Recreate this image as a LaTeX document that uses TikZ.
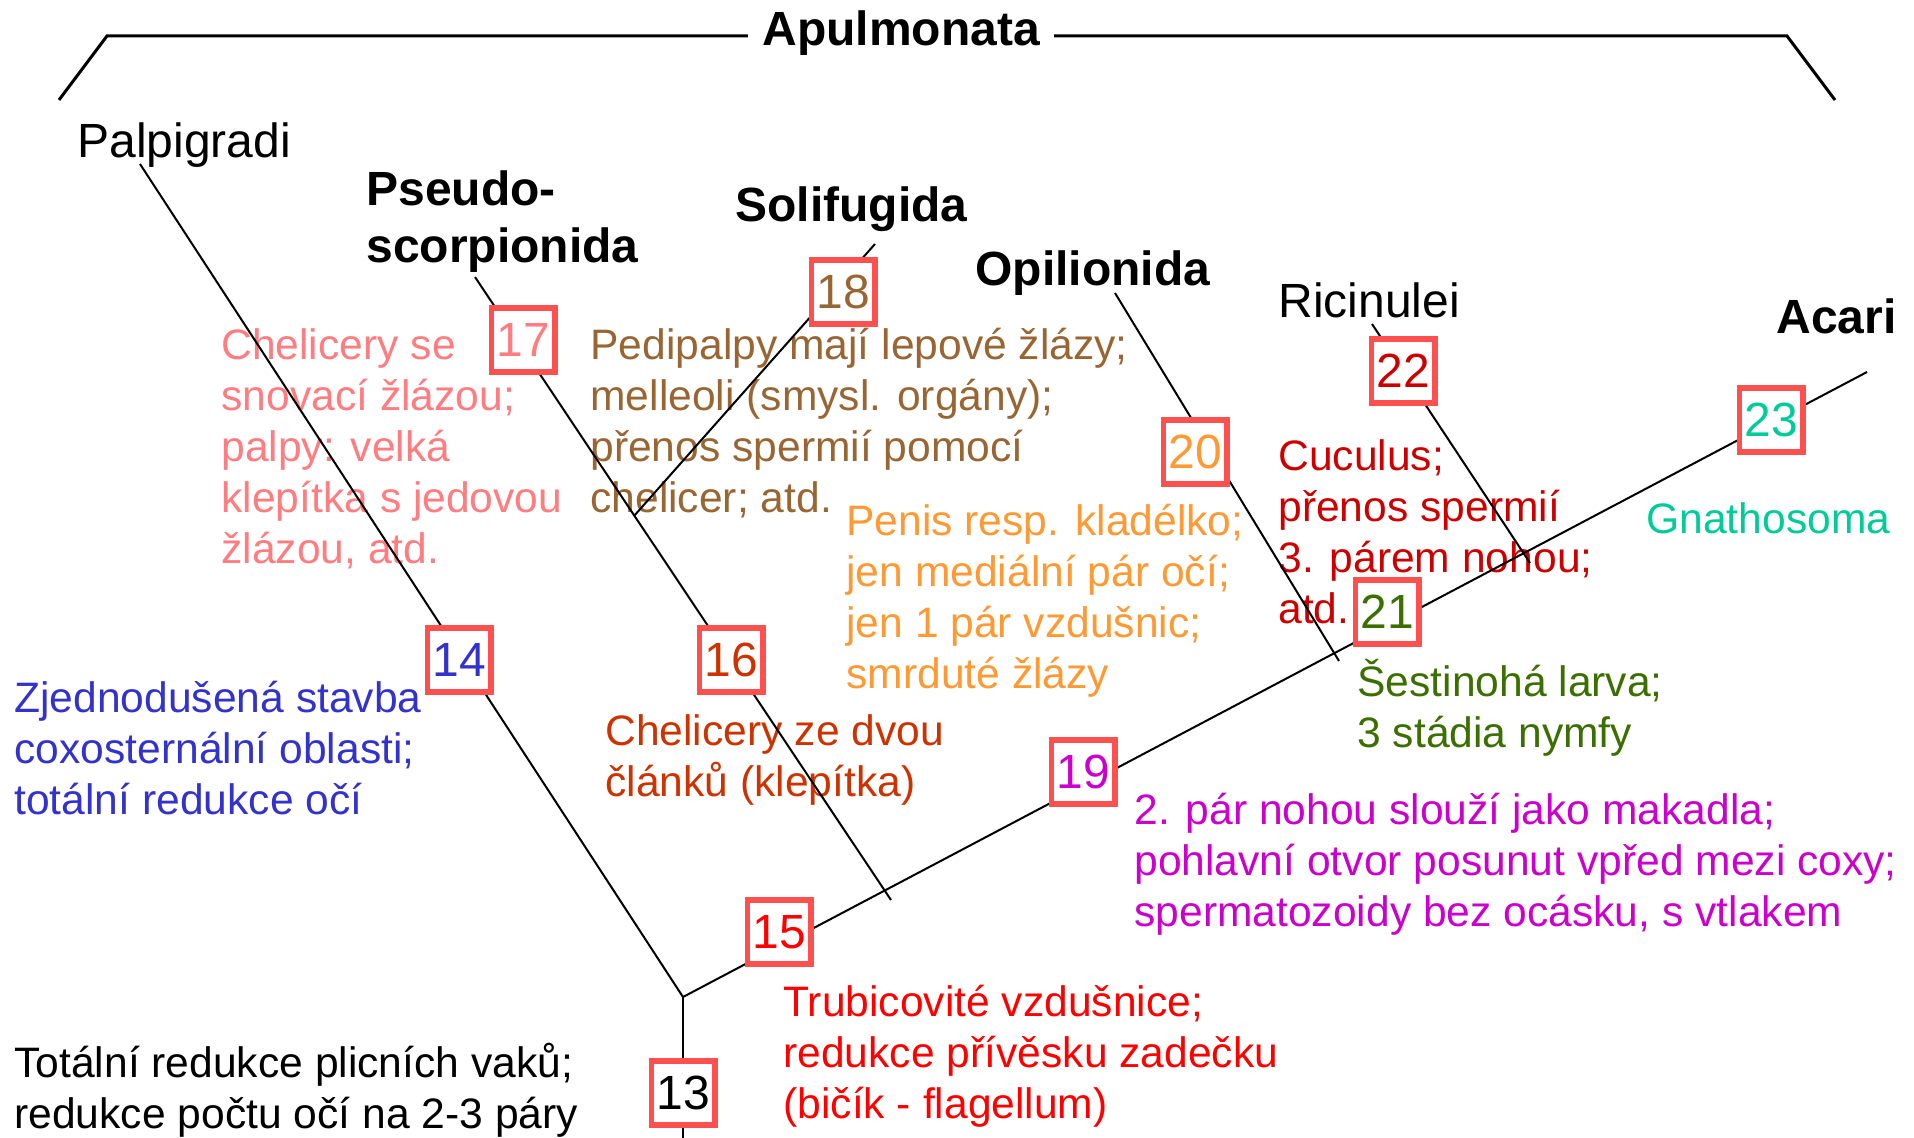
\documentclass[tikz,border=0pt]{standalone}
\usepackage{fontspec}
\setmainfont{Liberation Sans}
\usetikzlibrary{positioning}
\definecolor{boxred}{HTML}{FF5050}
\definecolor{salmon}{HTML}{FF7C80}
\definecolor{tan}{HTML}{996633}
\definecolor{amber}{HTML}{FF9933}
\definecolor{indigo}{HTML}{3333CC}
\definecolor{rust}{HTML}{CC3300}
\definecolor{crimson}{HTML}{CC0000}
\definecolor{olivegreen}{HTML}{3B6F00}
\definecolor{seagreen}{HTML}{00CC99}
\definecolor{fuchsia}{HTML}{CC00CC}
\definecolor{brightred}{HTML}{FF0000}

\begin{document}
\begin{tikzpicture}[x=0.5pt,y=-0.5pt,box/.style={draw=boxred,line width=2.75pt,fill=white,inner sep=0pt,minimum width=31.75pt,minimum height=32pt,font=\fontsize{24}{28}\selectfont},taxon/.style={anchor=base west,inner sep=0pt,align=left,font=\fontsize{24}{28.5}\selectfont},note/.style={anchor=base west,inner sep=0pt,align=left,font=\fontsize{21.3}{25.5}\selectfont},branch/.style={line width=1pt},bracket/.style={line width=1.5pt}]
\useasboundingbox (0,0) rectangle (1914,1138);
% taxa (multi-line nodes sit on their last baseline)
\node[taxon] (palpi) at (77,158) {Palpigradi};
\node[taxon,font=\fontsize{24}{28.5}\selectfont\bfseries] (pseudo) at (366,263) {Pseudo-\\scorpionida};
\node[taxon,font=\fontsize{24}{28.5}\selectfont\bfseries] (soli) at (735,222) {Solifugida};
\node[taxon,font=\fontsize{24}{28.5}\selectfont\bfseries] (opi) at (975,286) {Opilionida};
\node[taxon] (rici) at (1278,318) {Ricinulei};
\node[taxon,font=\fontsize{24}{28.5}\selectfont\bfseries] (acari) at (1776,334) {Acari};
\node[anchor=base,inner ysep=0pt,inner xsep=7pt,font=\fontsize{24}{28.5}\selectfont\bfseries] (apul) at (901,46) {Apulmonata};
% characters
\node[note,text=salmon] (t17) at (221,563) {Chelicery se\\snovací žlázou;\\palpy: velká\\klepítka s jedovou\\žlázou, atd.};
\node[note,text=tan] (t18) at (590,512) {Pedipalpy mají lepové žlázy;\\melleoli (smysl. orgány);\\přenos spermií pomocí\\chelicer; atd.};
\node[note,text=amber] (t20) at (846,688) {Penis resp. kladélko;\\jen mediální pár očí;\\jen 1 pár vzdušnic;\\smrduté žlázy};
\node[note,text=indigo] (t14) at (14,814) {Zjednodušená stavba\\coxosternální oblasti;\\totální redukce očí};
\node[note,text=rust] (t16) at (605,796) {Chelicery ze dvou\\článků (klepítka)};
\node[note,text=crimson] (t22) at (1278,623) {Cuculus;\\přenos spermií\\3. párem nohou;\\atd.};
\node[note,text=olivegreen] (t21) at (1357,747) {Šestinohá larva;\\3 stádia nymfy};
\node[note,text=seagreen] (t23) at (1646,533) {Gnathosoma};
\node[note,text=fuchsia] (t19) at (1134,926) {2. pár nohou slouží jako makadla;\\pohlavní otvor posunut vpřed mezi coxy;\\spermatozoidy bez ocásku, s vtlakem};
\node[note,text=brightred] (t15) at (783,1118) {Trubicovité vzdušnice;\\redukce přívěsku zadečku\\(bičík - flagellum)};
\node[note] (t13) at (14,1128) {Totální redukce plicních vaků;\\redukce počtu očí na 2-3 páry};
% tree
\coordinate (root) at (683,997);
\coordinate (base) at (683,1138);
\coordinate (palpiTip) at (140,164);
\coordinate (pseudoTip) at (475,277);
\coordinate (pseudoEnd) at (891,900);
\coordinate (soliTip) at (875,244);
\coordinate (soliEnd) at (634,516);
\coordinate (opiTip) at (1115,293);
\coordinate (opiEnd) at (1339,661);
\coordinate (riciTip) at (1372,324);
\coordinate (riciEnd) at (1530,563);
\coordinate (acariTip) at (1867,372);
\draw[branch] (palpiTip) -- (root) -- (acariTip);
\draw[branch] (root) -- (base);
\draw[branch] (pseudoTip) -- (pseudoEnd);
\draw[branch] (soliTip) -- (soliEnd);
\draw[branch] (opiTip) -- (opiEnd);
\draw[branch] (riciTip) -- (riciEnd);
% bracket
\coordinate (brL) at (59,100);
\coordinate (brLc) at (107,36);
\coordinate (brRc) at (1787,36);
\coordinate (brR) at (1835,100);
\draw[bracket] (brL) -- (brLc) -- (brLc -| apul.west);
\draw[bracket] (brRc -| apul.east) -- (brRc) -- (brR);
% boxes
\node[box] (b13) at (683,1093) {13};
\node[box,text=brightred] (b15) at (779,932) {15};
\node[box,text=indigo] (b14) at (459,660) {14};
\node[box,text=rust] (b16) at (731,660) {16};
\node[box,text=salmon] (b17) at (523,340) {17};
\node[box,text=tan] (b18) at (843,292) {18};
\node[box,text=fuchsia] (b19) at (1083,772) {19};
\node[box,text=amber] (b20) at (1195,452) {20};
\node[box,text=olivegreen] (b21) at (1387,612) {21};
\node[box,text=crimson] (b22) at (1403,371) {22};
\node[box,text=seagreen] (b23) at (1771,420) {23};
\end{tikzpicture}
\end{document}
